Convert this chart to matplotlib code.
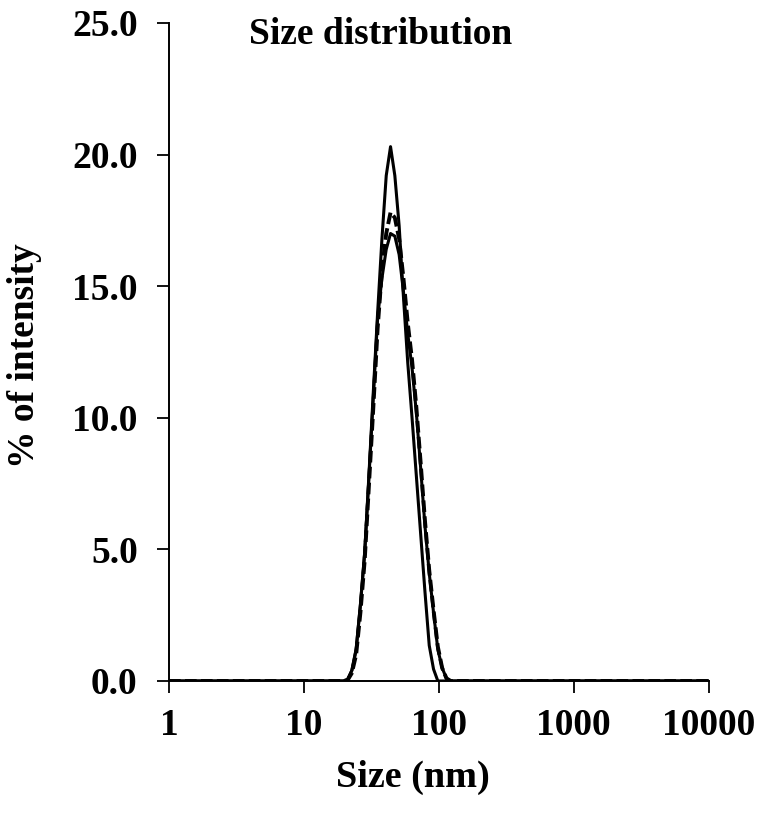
import numpy as np
import matplotlib.pyplot as plt
from matplotlib.ticker import FixedLocator, LogLocator, NullFormatter

plt.rcParams['font.family'] = ['Liberation Serif', 'DejaVu Serif']
plt.rcParams['font.weight'] = 'bold'

# size (nm) and % intensity
size_nm = [1.0, 15.69, 18.17, 19.55, 21.04, 22.64, 24.36, 26.21, 28.21,
           30.36, 32.67, 35.16, 37.84, 40.72, 43.82, 47.16, 50.75, 54.61,
           58.77, 63.25, 68.06, 73.24, 78.82, 84.82, 91.28, 98.23, 105.7,
           113.8, 122.4, 141.8, 10000.0]
run_a = [0.0, 0.0, 0.0, 0.0, 0.05, 0.4, 1.2, 2.9, 4.9,
         7.9, 11.0, 14.0, 16.8, 19.2, 20.3, 19.2, 17.3, 14.6,
         12.1, 10.0, 7.8, 5.6, 3.4, 1.35, 0.45, 0.0, 0.0,
         0.0, 0.0, 0.0, 0.0]
run_b = [0.0, 0.0, 0.0, 0.0, 0.05, 0.4, 1.2, 2.9, 4.9,
         7.8, 10.8, 13.8, 15.3, 16.4, 17.0, 16.9, 16.2, 14.8,
         13.2, 11.9, 10.2, 8.1, 5.9, 4.1, 2.6, 1.2, 0.5,
         0.1, 0.0, 0.0, 0.0]
run_c = [0.0, 0.0, 0.0, 0.0, 0.03, 0.3, 1.0, 2.6, 4.6,
         7.5, 10.4, 13.4, 15.6, 17.0, 17.8, 17.6, 16.8, 15.3,
         13.6, 12.2, 10.4, 8.3, 6.1, 4.2, 2.7, 1.3, 0.5,
         0.1, 0.0, 0.0, 0.0]

y_ticks = [0, 5, 10, 15, 20, 25]
x_ticks = [1, 10, 100, 1000, 10000]

fig = plt.figure(figsize=(7.58, 8.19), dpi=100)
ax = fig.add_axes([0.223, 0.1685, 0.712, 0.8035])

ax.plot(size_nm, run_b, color='black', lw=2.2, solid_joinstyle='round')
ax.plot(size_nm, run_c, color='black', lw=2.8, dashes=(3, 1.1))
ax.plot(size_nm, run_a, color='black', lw=2.2, solid_joinstyle='round')

ax.set_xscale('log')
ax.set_xlim(1, 10000)
ax.set_ylim(0, 25)

ax.xaxis.set_major_locator(FixedLocator(x_ticks))
ax.set_xticklabels([str(t) for t in x_ticks])
ax.xaxis.set_minor_locator(LogLocator(base=10, subs=np.arange(2, 10)))
ax.xaxis.set_minor_formatter(NullFormatter())
ax.set_yticks(y_ticks)
ax.set_yticklabels([f"{t:.1f}" for t in y_ticks])

for s in ['top', 'right']:
    ax.spines[s].set_visible(False)
for s in ['left', 'bottom']:
    ax.spines[s].set_linewidth(1.4)

ax.tick_params(axis='both', which='major', direction='out', length=8.6,
               width=1.3, labelsize=27)
ax.tick_params(axis='y', which='major', pad=14)
ax.tick_params(axis='x', which='major', pad=11)
ax.tick_params(axis='x', which='minor', direction='in', length=7, width=1.1)

ax.set_xlabel('Size (nm)', fontsize=27.5, fontweight='bold')
ax.xaxis.set_label_coords(0.452, -0.12)
ax.set_ylabel('% of intensity', fontsize=27, fontweight='bold')
ax.yaxis.set_label_coords(-0.236, 0.495)

fig.text(381 / 758, 1 - 35 / 819, 'Size distribution', fontsize=27,
         fontweight='bold', ha='center', va='center')

fig.savefig('out.png', dpi=100)
